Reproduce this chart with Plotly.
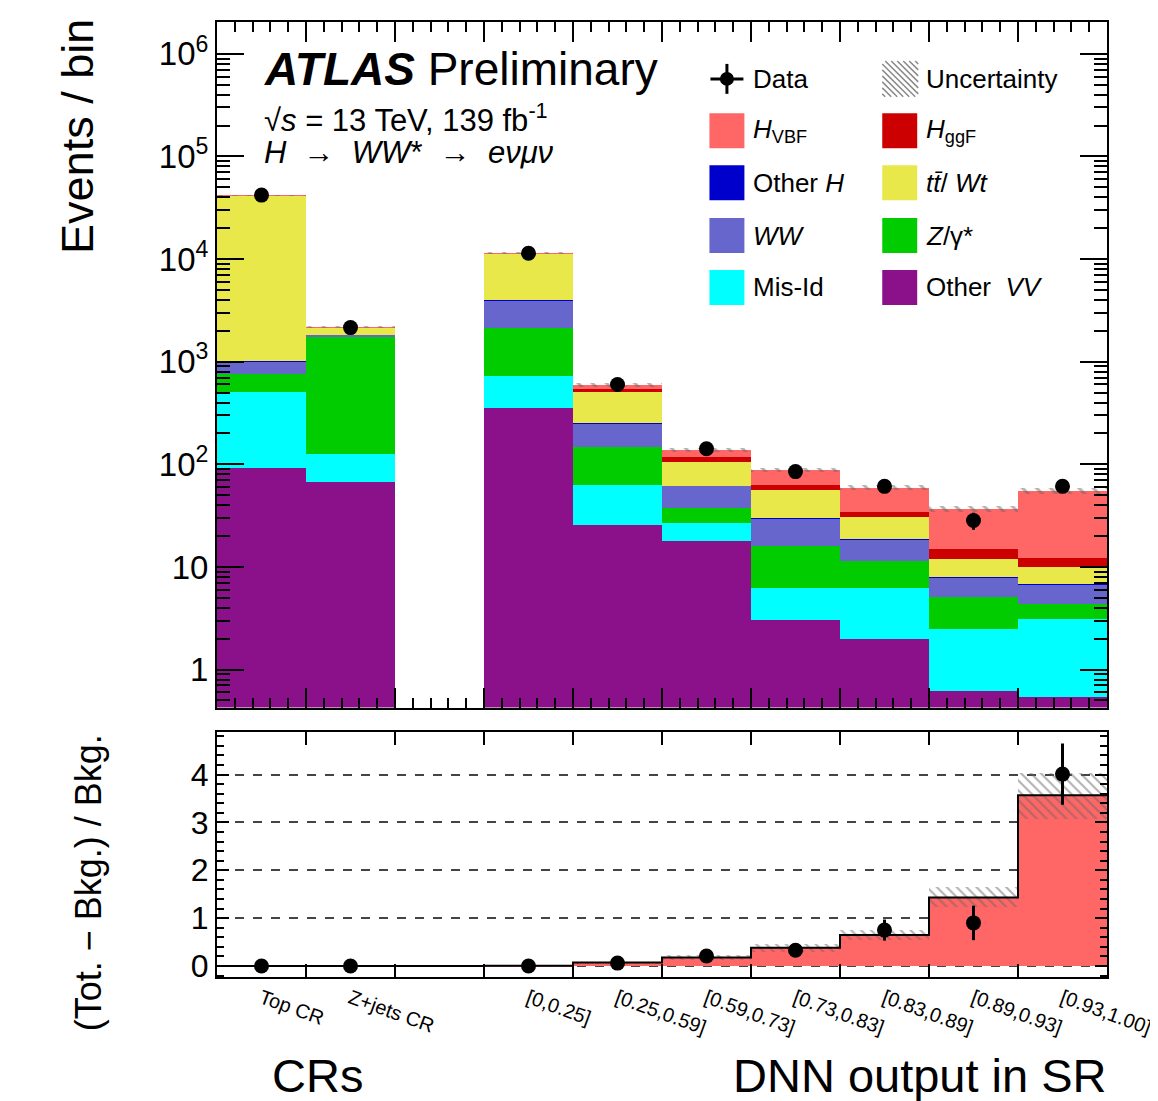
import numpy as np
import plotly.graph_objects as go

# ---------------- data ----------------
bin_labels = ["Top CR", "Z+jets CR", "", "[0,0.25]", "[0.25,0.59]", "[0.59,0.73]",
              "[0.73,0.83]", "[0.83,0.89]", "[0.89,0.93]", "[0.93,1.00]"]

other_vv = [92, 67, None, 354, 25.7, 18.0, 3.06, 1.99, 0.615, 0.54]
mis_id   = [413, 59, None, 370, 37.3, 8.7, 3.24, 4.31, 1.875, 2.57]
z_gamma  = [255, 1636, None, 1400, 84.5, 10.7, 9.8, 5.2, 2.64, 1.25]
ww       = [250, 78, None, 1860, 101.5, 24.1, 13.8, 7.1, 2.77, 2.44]
other_h  = [1.0, 1.0, None, 5, 1.0, 0.3, 0.2, 0.1, 0.05, 0.04]
ttbar_wt = [40700, 330, None, 7380, 256, 44.2, 26.5, 12.3, 3.95, 3.16]
h_ggf    = [20, 5, None, 12, 39, 12.0, 6.4, 3.7, 3.2, 2.2]
h_vbf    = [3, 2, None, 8, 47, 20.0, 25.0, 24.7, 21.5, 42.8]
unc_frac = [0.02, 0.03, None, 0.02, 0.04, 0.05, 0.05, 0.06, 0.07, 0.06]

data_vals = [42000, 2150, None, 11400, 600, 142, 85, 61, 28.4, 61]
data_errs = [205, 46, None, 107, 24, 12, 9.2, 7.8, 5.3, 7.8]

ratio_sig    = [0.0, 0.0, 0.0, 0.005, 0.075, 0.18, 0.38, 0.65, 1.43, 3.57]
ratio_unc_lo = [-0.008, -0.01, None, -0.005, 0.05, 0.13, 0.31, 0.55, 1.24, 3.08]
ratio_unc_hi = [0.008, 0.01, None, 0.015, 0.10, 0.25, 0.48, 0.76, 1.66, 4.05]
ratio_data   = [0.0, 0.0, None, 0.0, 0.06, 0.21, 0.33, 0.75, 0.90, 4.01]
ratio_derr   = [0.01, 0.02, None, 0.01, 0.04, 0.05, 0.07, 0.22, 0.36, 0.64]

stack_names  = ["Other VV", "Mis-Id", "Z/γ*", "WW", "Other H", "tt/Wt", "H_ggF", "H_VBF"]
stack_values = [other_vv, mis_id, z_gamma, ww, other_h, ttbar_wt, h_ggf, h_vbf]
stack_colors = ["#8a118a", "#00ffff", "#00cc00", "#6666cc", "#0000cc", "#e8e84a", "#cc0000", "#ff6666"]

FONT = "Liberation Sans"
W, H = 1158, 1101
OFF = 8  # page offset of the plot div
L, R, T, B = 217, 1108, 20, 977  # target plot area in page pixels

def PX(x):
    return (x - L) / (R - L)

def PY(y):
    return (B - y) / (B - T)

n = len(bin_labels)
centers = np.arange(n) + 0.5

fig = go.Figure()

# ---------------- main stacked histogram ----------------
cum = np.zeros(n)
valid = np.array([v is not None for v in other_vv])
for name, vals, col in zip(stack_names, stack_values, stack_colors):
    v = np.array([x if x is not None else 0.0 for x in vals], dtype=float)
    base = np.where(cum == 0, 1e-3, cum)
    fig.add_trace(go.Bar(
        x=centers[valid], y=v[valid], base=base[valid], width=1.0,
        marker=dict(color=col, line=dict(width=0)),
        name=name, showlegend=False, xaxis="x", yaxis="y"))
    cum = cum + v

total = cum
uf = np.array([u if u is not None else 0.0 for u in unc_frac])
lo = total * (1 - uf)
hi = total * (1 + uf)
fig.add_trace(go.Bar(
    x=centers[valid], y=(hi - lo)[valid], base=lo[valid], width=1.0,
    marker=dict(color="rgba(0,0,0,0)", line=dict(width=0),
                pattern=dict(shape="\\", fgcolor="#666666", bgcolor="rgba(0,0,0,0)",
                             size=10, solidity=0.3, fillmode="overlay")),
    showlegend=False, xaxis="x", yaxis="y"))

dv = [d for d in data_vals if d is not None]
de = [e for e in data_errs if e is not None]
fig.add_trace(go.Scatter(
    x=centers[valid], y=dv, mode="markers",
    marker=dict(color="black", size=15),
    error_y=dict(type="data", array=de, color="black", thickness=3, width=0),
    showlegend=False, xaxis="x", yaxis="y"))

# ---------------- ratio panel ----------------
rs = np.array(ratio_sig)
fig.add_trace(go.Bar(
    x=centers, y=rs, base=np.zeros(n), width=1.0,
    marker=dict(color="#ff6666", line=dict(width=0)),
    showlegend=False, xaxis="x2", yaxis="y2"))

rl = np.array([v if v is not None else 0 for v in ratio_unc_lo], dtype=float)
rh = np.array([v if v is not None else 0 for v in ratio_unc_hi], dtype=float)
fig.add_trace(go.Bar(
    x=centers[valid], y=(rh - rl)[valid], base=rl[valid], width=1.0,
    marker=dict(color="rgba(0,0,0,0)", line=dict(width=0),
                pattern=dict(shape="\\", fgcolor="#666666", bgcolor="rgba(0,0,0,0)",
                             size=7, solidity=0.3, fillmode="overlay")),
    showlegend=False, xaxis="x2", yaxis="y2"))

edges = np.arange(n + 1)
fig.add_trace(go.Scatter(
    x=edges, y=list(rs) + [rs[-1]], mode="lines", line=dict(color="black", width=2, shape="hv"),
    showlegend=False, xaxis="x2", yaxis="y2"))

rd = [d for d in ratio_data if d is not None]
re_ = [e for e in ratio_derr if e is not None]
fig.add_trace(go.Scatter(
    x=centers[valid], y=rd, mode="markers",
    marker=dict(color="black", size=15),
    error_y=dict(type="data", array=re_, color="black", thickness=3, width=0),
    showlegend=False, xaxis="x2", yaxis="y2"))

# ---------------- axes ----------------
split_main = PY(707)
split_low = PY(731)

minor_log = [m * 10 ** k for k in range(-1, 7) for m in range(2, 10)]
fig.update_layout(
    width=W, height=H,
    margin=dict(l=L - OFF, r=W - R + OFF, t=T - OFF, b=H - B + OFF),
    paper_bgcolor="white", plot_bgcolor="white",
    font=dict(family=FONT, color="black"),
    barmode="overlay", bargap=0,
    xaxis=dict(domain=[0, 1], anchor="y", range=[0, n], showticklabels=False,
               tickmode="array", tickvals=list(range(n + 1)), ticks="inside", ticklen=20,
               tickwidth=2, tickcolor="black",
               minor=dict(tickmode="linear", tick0=0, dtick=0.2, ticks="inside", ticklen=10,
                          tickwidth=2, tickcolor="black", showgrid=False),
               showline=True, linecolor="black", linewidth=2, mirror="allticks",
               showgrid=False, zeroline=False),
    yaxis=dict(domain=[split_main, 1], anchor="x", type="log", range=[-0.37, 6.31],
               tickmode="array", tickvals=[1, 10, 100, 1e3, 1e4, 1e5, 1e6],
               ticktext=["1", "10", "10<sup>2</sup>", "10<sup>3</sup>", "10<sup>4</sup>",
                         "10<sup>5</sup>", "10<sup>6</sup>"],
               tickfont=dict(size=33), ticks="inside", ticklen=27, tickwidth=2, tickcolor="black",
               minor=dict(tickmode="array", tickvals=minor_log, ticks="inside", ticklen=13,
                          tickwidth=2, tickcolor="black", showgrid=False),
               showline=True, linecolor="black", linewidth=2, mirror="allticks",
               showgrid=False, zeroline=False),
    xaxis2=dict(domain=[0, 1], anchor="y2", range=[0, n],
                tickmode="array", tickvals=list(centers), ticktext=bin_labels,
                tickangle=20, tickfont=dict(size=20),
                ticks="inside", ticklen=0, tickwidth=0,
                minor=dict(tickmode="array", tickvals=list(range(1, n)), ticks="inside",
                           ticklen=13, tickwidth=2, tickcolor="black", showgrid=False),
                showline=True, linecolor="black", linewidth=2, mirror="allticks",
                showgrid=False, zeroline=False),
    yaxis2=dict(domain=[0, split_low], anchor="x2", range=[-0.23, 4.9],
                tickmode="array", tickvals=[0, 1, 2, 3, 4], tickfont=dict(size=32),
                ticks="inside", ticklen=12, tickwidth=2, tickcolor="black",
                minor=dict(tickmode="linear", tick0=0, dtick=0.2, ticks="inside", ticklen=7,
                           tickwidth=2, tickcolor="black", showgrid=False),
                showline=True, linecolor="black", linewidth=2, mirror="allticks",
                showgrid=True, gridcolor="#444444", griddash="dash", gridwidth=1.5,
                zeroline=False),
)

# ---------------- texts ----------------
ann = []
def text(x, y, s, size, xanchor="left", yanchor="middle", angle=0):
    ann.append(dict(x=PX(x), y=PY(y), xref="paper", yref="paper", text=s, showarrow=False,
                    xanchor=xanchor, yanchor=yanchor, textangle=angle,
                    font=dict(family=FONT, size=size, color="black")))

text(262, 67, "<b><i>ATLAS</i></b> Preliminary", 46)
text(262, 116, "√<i>s</i> = 13 TeV, 139 fb<sup>-1</sup>", 31)
text(262, 151, "<i>H</i>  →  <i>WW</i>*  →  <i>eνμν</i>", 31)
text(78, 135, "Events / bin", 45, xanchor="center", angle=-90)
text(88, 883, "(Tot. − Bkg.) / Bkg.", 36, xanchor="center", angle=-90)
text(318, 1076, "CRs", 47, xanchor="center")
text(1110, 1076, "DNN output in SR", 47, xanchor="right")

# legend
leg_col1_x, leg_col2_x = 710, 883
leg_rows = [77, 129, 181, 234, 286]
sw = 35
shapes = []
def swatch(x, yc, color):
    shapes.append(dict(type="rect", xref="paper", yref="paper",
                       x0=PX(x), x1=PX(x + sw), y0=PY(yc + sw / 2), y1=PY(yc - sw / 2),
                       fillcolor=color, line=dict(width=0), layer="above"))

legend_entries = [
    (leg_col1_x, leg_rows[1], "#ff6666", "<i>H</i><sub>VBF</sub>"),
    (leg_col2_x, leg_rows[1], "#cc0000", "<i>H</i><sub>ggF</sub>"),
    (leg_col1_x, leg_rows[2], "#0000cc", "Other <i>H</i>"),
    (leg_col2_x, leg_rows[2], "#e8e84a", "<i>tt̄</i>/ <i>Wt</i>"),
    (leg_col1_x, leg_rows[3], "#6666cc", "<i>WW</i>"),
    (leg_col2_x, leg_rows[3], "#00cc00", "<i>Z</i>/γ*"),
    (leg_col1_x, leg_rows[4], "#00ffff", "Mis-Id"),
    (leg_col2_x, leg_rows[4], "#8a118a", "Other  <i>VV</i>"),
]
for x, y, c, s in legend_entries:
    swatch(x, y, c)
    text(x + 42, y, s, 26)

# Data legend symbol
yc = leg_rows[0]
shapes.append(dict(type="line", xref="paper", yref="paper", x0=PX(711), x1=PX(744),
                   y0=PY(yc), y1=PY(yc), line=dict(color="black", width=3), layer="above"))
shapes.append(dict(type="line", xref="paper", yref="paper", x0=PX(727.5), x1=PX(727.5),
                   y0=PY(yc - 15), y1=PY(yc + 15), line=dict(color="black", width=3), layer="above"))
shapes.append(dict(type="circle", xref="paper", yref="paper", x0=PX(720.5), x1=PX(734.5),
                   y0=PY(yc + 7), y1=PY(yc - 7), fillcolor="black", line=dict(width=0), layer="above"))
text(752, yc, "Data", 26)

# Uncertainty legend symbol (hatched square)
x0, y0, s = 883, 59, 36
for d in range(-s + 3, s, 6):
    ta, tb = max(0, -d), min(s, s - d)
    if tb - ta > 2:
        shapes.append(dict(type="line", xref="paper", yref="paper",
                           x0=PX(x0 + d + ta), y0=PY(y0 + ta), x1=PX(x0 + d + tb), y1=PY(y0 + tb),
                           line=dict(color="#8a8a8a", width=1.5), layer="above"))
text(925, yc, "Uncertainty", 26)

fig.update_layout(annotations=ann, shapes=shapes)
fig.write_html("out.html")
